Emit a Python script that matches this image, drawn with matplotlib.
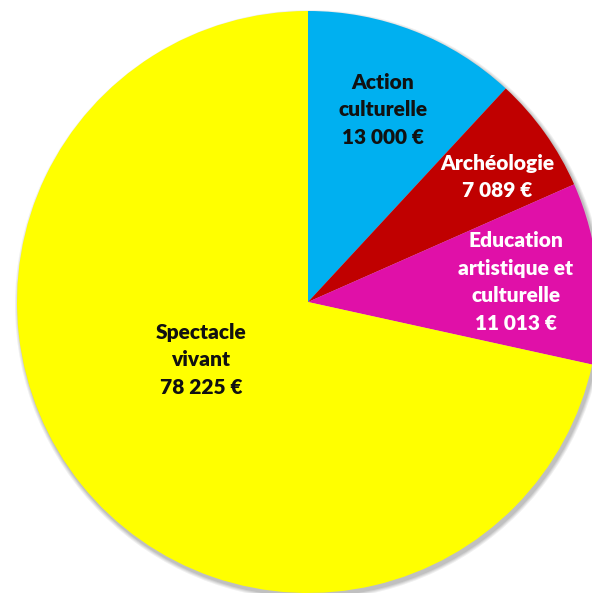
import matplotlib.pyplot as plt
from matplotlib.patches import Circle

# Budget par domaine
categories = ["Action\nculturelle", "Archéologie", "Education\nartistique et\nculturelle", "Spectacle\nvivant"]
values = [13000, 7089, 11013, 78225]
value_labels = ["13 000 €", "7 089 €", "11 013 €", "78 225 €"]
colors = ["#00B0F0", "#C00000", "#E010A8", "#FFFF00"]
text_colors = ["#111111", "white", "white", "#111111"]

# label positions in pixels (x, y from top)
label_pos = [(383, 110), (497, 177), (516, 282), (201, 360)]

W, H = 592, 593
cx, cy, R = 308, 302, 291

fig = plt.figure(figsize=(W / 100, H / 100), dpi=100)
ax = fig.add_axes([0, 0, 1, 1])

# soft shadow under the pie
for i, a in enumerate([0.06, 0.06, 0.07, 0.08]):
    ax.add_patch(Circle((cx + 2, -cy - 3), R + 4 - i, color="black", alpha=a, lw=0, zorder=0))

ax.pie(values, colors=colors, startangle=90, counterclock=False,
       center=(cx, -cy), radius=R, wedgeprops=dict(linewidth=0),
       frame=True)
ax.set_xlim(0, W)
ax.set_ylim(-H, 0)
ax.set_aspect("equal")
ax.axis("off")

for name, val, (x, y), c in zip(categories, value_labels, label_pos, text_colors):
    ax.text(x, -y, name + "\n" + val, ha="center", va="center", color=c,
            fontsize=15, fontweight="heavy", family="Lato", linespacing=1.55)

fig.savefig("out.png", dpi=100)
